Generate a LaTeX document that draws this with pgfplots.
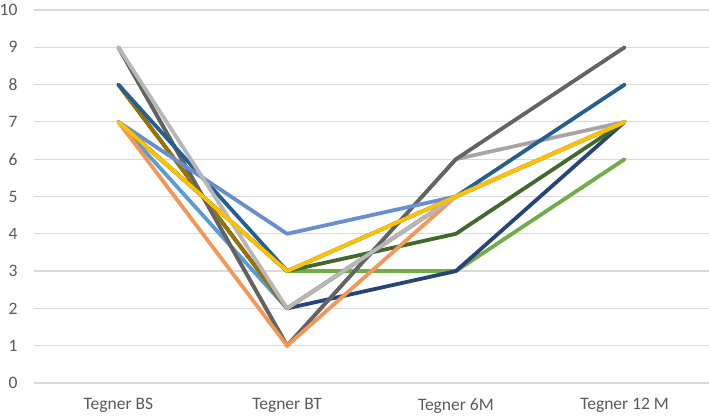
\documentclass[border=0pt]{standalone}
\usepackage{pgfplots}
\pgfplotsset{compat=1.18}
\usepackage{fontspec}
\setmainfont{Carlito}
\definecolor{cLB}{HTML}{5B9BD5}
\definecolor{cGr}{HTML}{70AD47}
\definecolor{cNv}{HTML}{264478}
\definecolor{cDY}{HTML}{997300}
\definecolor{cG1}{HTML}{A5A5A5}
\definecolor{cDG}{HTML}{636363}
\definecolor{cB2}{HTML}{255E91}
\definecolor{cDGr}{HTML}{43682B}
\definecolor{cBl}{HTML}{698ED0}
\definecolor{cOr}{HTML}{F1975A}
\definecolor{cG2}{HTML}{B7B7B7}
\definecolor{cYe}{HTML}{FFC000}
\definecolor{txt}{HTML}{595959}
\definecolor{gridc}{HTML}{D9D9D9}
\begin{document}
\begin{tikzpicture}[x=1pt,y=1pt]
\useasboundingbox (-34,-34) rectangle (675,383);
\begin{axis}[
  at={(0,0)}, anchor=south west,
  scale only axis, width=675pt, height=373pt,
  xmin=-0.5, xmax=3.5, ymin=0, ymax=10,
  xtick={0,1,2,3},
  xticklabels={Tegner BS,Tegner BT,Tegner 6M,Tegner 12 M},
  ytick={0,1,...,10},
  axis line style={draw=none},
  major tick length=0pt,
  xmajorgrids=false,
  ymajorgrids, major grid style={draw=gridc, line width=1.2pt},
  tick label style={text=txt, font=\fontsize{17.5}{20}\selectfont},
  /pgf/number format/assume math mode=true,
  yticklabel style={xshift=-13pt},
  xticklabel style={yshift=-12pt},
  every axis plot/.append style={line width=3.8pt, line join=round, line cap=round, mark=none},
  clip=false,
]
\addplot[cLB] coordinates {(0,7) (1,2) (2,5) (3,7)};
\addplot[cGr] coordinates {(0,7) (1,3) (2,3) (3,6)};
\addplot[cNv] coordinates {(0,8) (1,2) (2,3) (3,7)};
\addplot[cDY] coordinates {(0,8) (1,2) (2,5) (3,7)};
\addplot[cG1] coordinates {(0,9) (1,1) (2,6) (3,7)};
\addplot[cDG] coordinates {(0,9) (1,1) (2,6) (3,9)};
\addplot[cB2] coordinates {(0,8) (1,3) (2,5) (3,8)};
\addplot[cDGr] coordinates {(0,7) (1,3) (2,4) (3,7)};
\addplot[cBl] coordinates {(0,7) (1,4) (2,5) (3,7)};
\addplot[cOr] coordinates {(0,7) (1,1) (2,5) (3,7)};
\addplot[cG2] coordinates {(0,9) (1,2) (2,5) (3,7)};
\addplot[cYe] coordinates {(0,7) (1,3) (2,5) (3,7)};
\end{axis}
\end{tikzpicture}
\end{document}
